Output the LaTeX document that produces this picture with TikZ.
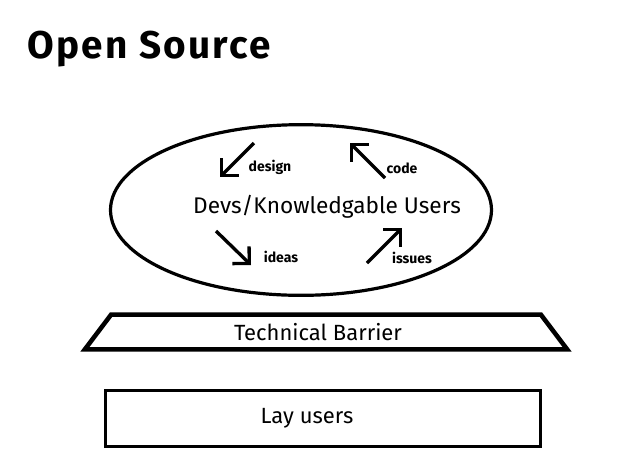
\documentclass[tikz,border=0pt]{standalone}
\usepackage{fontspec}
\setmainfont{Fira Sans}
\usetikzlibrary{arrows.meta, shapes.geometric, positioning}
\tikzset{
    title_txt/.style={
        anchor=base west, inner sep=0pt,
        font=\fontsize{29}{34}\selectfont\bfseries\addfontfeature{LetterSpace=6}
    },
    user_ring/.style={
        ellipse, draw=black, line width=2.4pt,
        minimum width=285.75pt, minimum height=128pt, inner sep=0pt
    },
    barrier_box/.style={
        trapezium, trapezium angle=62, draw=black, line width=3.4pt,
        minimum width=362pt, minimum height=26pt, inner sep=0pt,
        trapezium stretches=true, font=\fontsize{16.5}{19}\selectfont
    },
    lay_box/.style={
        rectangle, draw=black, line width=2.4pt,
        minimum width=326pt, minimum height=42pt, inner sep=0pt
    },
    box_txt/.style={
        font=\fontsize{16.5}{19}\selectfont, inner sep=0pt
    },
    flow_arrow/.style={
        -{Straight Barb[length=9pt, width=18pt, line width=2.5pt]},
        line width=2.5pt, draw=black
    },
    flow_lbl/.style={
        font=\fontsize{10.5}{12}\selectfont\bfseries, inner sep=0pt
    }
}

\begin{document}
\begin{tikzpicture}[x=0.75pt, y=-0.75pt]
    \useasboundingbox (0, 0) rectangle (629, 462);

    % Title
    \node[title_txt] (title) at (27, 58) {Open Source};

    % Devs ring
    \node[user_ring] (ring) at (301, 210) {};
    \node[font=\fontsize{17}{20}\selectfont] (devs) at (327, 207) {Devs/Knowledgable Users};

    % Cycle arrows
    \coordinate (design_s) at (254, 143);
    \coordinate (design_e) at (220, 177);
    \coordinate (code_s) at (385, 178);
    \coordinate (code_e) at (350, 143);
    \coordinate (ideas_s) at (216, 231);
    \coordinate (ideas_e) at (251, 265);
    \coordinate (issues_s) at (367, 263);
    \coordinate (issues_e) at (402, 228);
    \draw[flow_arrow] (design_s) -- (design_e);
    \draw[flow_arrow] (code_s) -- (code_e);
    \draw[flow_arrow] (ideas_s) -- (ideas_e);
    \draw[flow_arrow] (issues_s) -- (issues_e);
    \node[flow_lbl] (design) at (270, 167) {design};
    \node[flow_lbl] (code) at (402, 168) {code};
    \node[flow_lbl] (ideas) at (281, 257) {ideas};
    \node[flow_lbl] (issues) at (412, 258) {issues};

    % Barrier and lay users
    \node[barrier_box] (barrier) at (326, 332) {\hspace*{-12pt}Technical Barrier};
    \node[lay_box] (lay) at (323, 418.5) {};
    \node[box_txt] (lay_txt) at (307, 418) {Lay users};
\end{tikzpicture}
\end{document}
